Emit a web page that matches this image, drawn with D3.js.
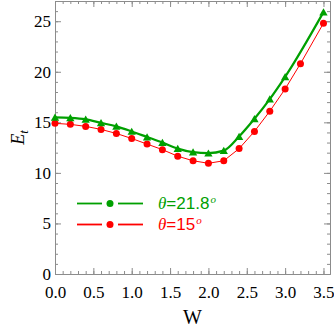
<!DOCTYPE html>
<html>
<head>
<meta charset="utf-8">
<script src="https://cdn.jsdelivr.net/npm/d3@7"></script>
<style>
  body { margin: 0; background: #fff; }
  svg { display: block; }
</style>
</head>
<body>
<div id="chart"></div>
<script>
// data
var greenW  = [0.0, 0.2, 0.4, 0.6, 0.8, 1.0, 1.2, 1.4, 1.6, 1.8, 2.0, 2.2, 2.4, 2.6, 2.8, 3.0, 3.5];
var greenEt = [15.4, 15.35, 15.2, 14.85, 14.5, 14.0, 13.45, 12.9, 12.3, 11.95, 11.85, 12.1, 13.5, 15.25, 17.2, 19.4, 25.8];
var redW    = [0.0, 0.2, 0.4, 0.6, 0.8, 1.0, 1.2, 1.4, 1.6, 1.8, 2.0, 2.2, 2.4, 2.6, 2.8, 3.0, 3.2, 3.5];
var redEt   = [14.9, 14.8, 14.6, 14.3, 13.9, 13.4, 12.85, 12.3, 11.65, 11.2, 10.95, 11.2, 12.4, 14.1, 16.1, 18.3, 20.8, 24.8];
var xTicks  = [0, 0.5, 1.0, 1.5, 2.0, 2.5, 3.0, 3.5];
var yTicks  = [0, 5, 10, 15, 20, 25];
var legendNames = ["21.8", "15"];

function init(){
    var w = 334;
    var h = 332;
    var left = 55, right = 330, top = 1, bottom = 274;
    var green = "#00a000";
    var red = "#ff0000";
    var frameColor = "#8c8c8c";

    var x = d3.scaleLinear().domain([0, 3.585]).range([left, right]);
    var y = d3.scaleLinear().domain([0, 27]).range([bottom, top]);

    var svg = d3.select("#chart")
                .append("svg")
                .attr("width", w)
                .attr("height", h);

    var xMinor = d3.range(0, 36).map(function(i){ return i / 10; });
    var yMinor = d3.range(0, 28);

    // frame + ticks (ticks point inward on all four sides)
    function styleAxis(g){
        g.select(".domain").attr("stroke", frameColor);
        g.selectAll(".tick line").attr("stroke", frameColor);
    }

    svg.append("g").attr("transform", "translate(0," + bottom + ")")
        .call(d3.axisBottom(x).tickValues(xMinor).tickSize(-3).tickFormat("").tickSizeOuter(0))
        .call(styleAxis);
    svg.append("g").attr("transform", "translate(0," + bottom + ")")
        .call(d3.axisBottom(x).tickValues(xTicks).tickSize(-6).tickSizeOuter(0).tickPadding(12)
              .tickFormat(d3.format(".1f")))
        .call(styleAxis)
        .selectAll("text")
        .style("font-family", "Liberation Serif, serif")
        .style("font-size", "17px")
        .attr("fill", "#000");

    svg.append("g").attr("transform", "translate(0," + top + ")")
        .call(d3.axisTop(x).tickValues(xMinor).tickSize(-3).tickFormat("").tickSizeOuter(0))
        .call(styleAxis);
    svg.append("g").attr("transform", "translate(0," + top + ")")
        .call(d3.axisTop(x).tickValues(xTicks).tickSize(-6).tickFormat("").tickSizeOuter(0))
        .call(styleAxis);

    svg.append("g").attr("transform", "translate(" + left + ",0)")
        .call(d3.axisLeft(y).tickValues(yMinor).tickSize(-3).tickFormat("").tickSizeOuter(0))
        .call(styleAxis);
    svg.append("g").attr("transform", "translate(" + left + ",0)")
        .call(d3.axisLeft(y).tickValues(yTicks).tickSize(-6).tickSizeOuter(0).tickPadding(4))
        .call(styleAxis)
        .selectAll("text")
        .style("font-family", "Liberation Serif, serif")
        .style("font-size", "17px")
        .attr("fill", "#000");

    svg.append("g").attr("transform", "translate(" + right + ",0)")
        .call(d3.axisRight(y).tickValues(yMinor).tickSize(-3).tickFormat("").tickSizeOuter(0))
        .call(styleAxis);
    svg.append("g").attr("transform", "translate(" + right + ",0)")
        .call(d3.axisRight(y).tickValues(yTicks).tickSize(-6).tickFormat("").tickSizeOuter(0))
        .call(styleAxis);

    // series
    var greenData = greenW.map(function(d, i){ return [d, greenEt[i]]; });
    var redData = redW.map(function(d, i){ return [d, redEt[i]]; });

    var redLine = d3.line()
        .x(function(d){ return x(d[0]); })
        .y(function(d){ return y(d[1]); });
    var greenLine = d3.line()
        .curve(d3.curveMonotoneX)
        .x(function(d){ return x(d[0]); })
        .y(function(d){ return y(d[1]) - 1; });

    svg.append("path")
        .datum(redData)
        .attr("d", redLine)
        .attr("fill", "none")
        .attr("stroke", red)
        .attr("stroke-width", 1);

    svg.selectAll("circle.red")
        .data(redData)
        .enter()
        .append("circle")
        .attr("class", "red")
        .attr("cx", function(d){ return x(d[0]); })
        .attr("cy", function(d){ return y(d[1]); })
        .attr("r", 3.5)
        .attr("fill", red);

    svg.append("path")
        .datum(greenData)
        .attr("d", greenLine)
        .attr("fill", "none")
        .attr("stroke", green)
        .attr("stroke-width", 2.2);

    var tri = d3.symbol().type(d3.symbolTriangle).size(30);
    svg.selectAll("path.tri")
        .data(greenData)
        .enter()
        .append("path")
        .attr("class", "tri")
        .attr("d", tri)
        .attr("transform", function(d){ return "translate(" + x(d[0]) + "," + y(d[1]) + ")"; })
        .attr("fill", green);

    // legend
    var legendColors = [green, red];
    var legendY = [203.5, 224.5];
    legendNames.forEach(function(name, i){
        var g = svg.append("g");
        var c = legendColors[i];
        g.append("line").attr("x1", 77).attr("x2", 102)
            .attr("y1", legendY[i]).attr("y2", legendY[i])
            .attr("stroke", c).attr("stroke-width", 1.8);
        g.append("line").attr("x1", 118).attr("x2", 143)
            .attr("y1", legendY[i]).attr("y2", legendY[i])
            .attr("stroke", c).attr("stroke-width", 1.8);
        g.append("circle").attr("cx", 110).attr("cy", legendY[i]).attr("r", 3.5).attr("fill", c);

        var t = g.append("text")
            .attr("x", 158)
            .attr("y", legendY[i] + 5.5)
            .attr("fill", c)
            .style("font-family", "Liberation Sans, Arial, sans-serif")
            .style("font-size", "17px");
        t.append("tspan").text("\u03b8")
            .style("font-family", "Liberation Serif, serif")
            .style("font-style", "italic");
        t.append("tspan").text("=" + name);
        t.append("tspan").text("o")
            .attr("dx", 1)
            .attr("dy", -6)
            .style("font-family", "Liberation Serif, serif")
            .style("font-style", "italic")
            .style("font-size", "11px");
    });

    // axis labels
    svg.append("text")
        .attr("x", (left + right) / 2)
        .attr("y", 324)
        .attr("text-anchor", "middle")
        .style("font-family", "Liberation Serif, serif")
        .style("font-size", "20px")
        .text("W");

    var yl = svg.append("text")
        .attr("transform", "translate(24," + ((top + bottom) / 2) + ") rotate(-90)")
        .attr("text-anchor", "middle")
        .style("font-family", "Liberation Serif, serif")
        .style("font-style", "italic")
        .style("font-size", "18px");
    yl.append("tspan").text("E");
    yl.append("tspan").text("t").attr("dy", 4).style("font-size", "13px");
}

window.onload = init;
</script>
</body>
</html>
